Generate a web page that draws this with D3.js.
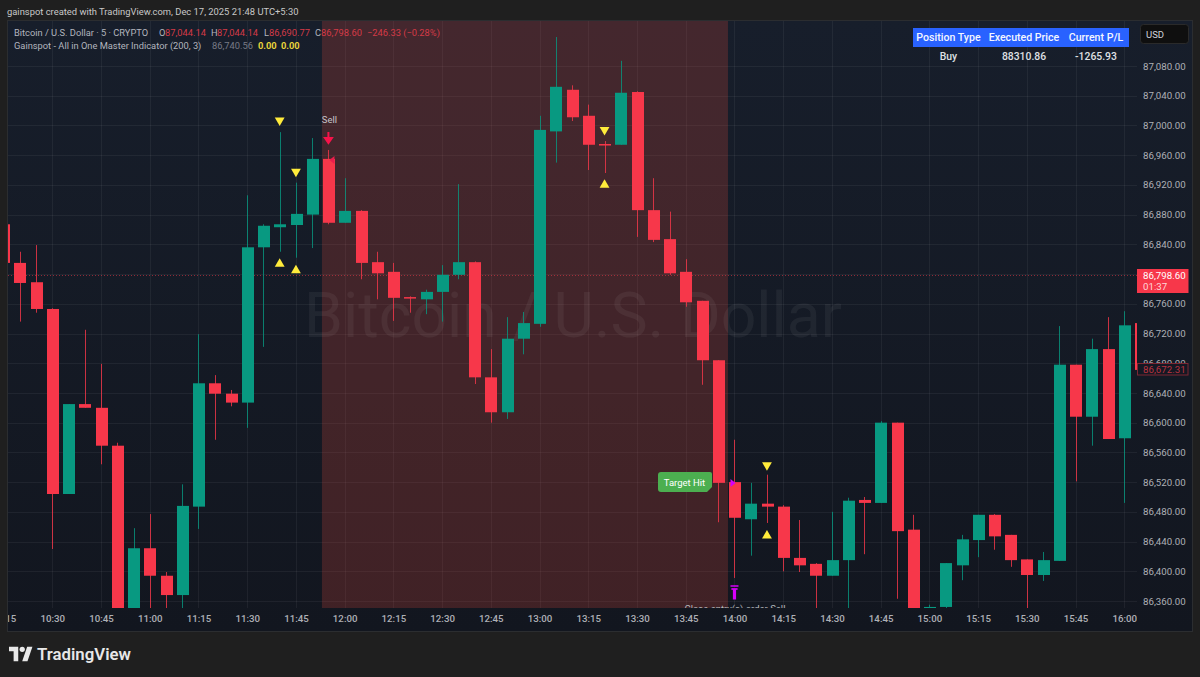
<!DOCTYPE html>
<html>
<meta charset="utf-8">
<style>
html, body { margin: 0; padding: 0; background: #1f1f1f; }
svg { display: block; }
text { font-family: Roboto, "Noto Sans", sans-serif; }
.axis path, .axis line { display: none; }
.axis text { fill: #aeb0b6; font-size: 9.7px; font-family: Roboto, sans-serif; }
.grid { stroke: #ffffff; stroke-opacity: 0.055; }
</style>
<body>
<svg width="1200" height="677"></svg>
<script src="https://d3js.org/d3.v7.min.js"></script>
<script>
var barTimes = ["10:15","10:20","10:25","10:30","10:35","10:40","10:45","10:50","10:55","11:00","11:05","11:10",
  "11:15","11:20","11:25","11:30","11:35","11:40","11:45","11:50","11:55","12:00","12:05","12:10",
  "12:15","12:20","12:25","12:30","12:35","12:40","12:45","12:50","12:55","13:00","13:05","13:10",
  "13:15","13:20","13:25","13:30","13:35","13:40","13:45","13:50","13:55","14:00","14:05","14:10",
  "14:15","14:20","14:25","14:30","14:35","14:40","14:45","14:50","14:55","15:00","15:05","15:10",
  "15:15","15:20","15:25","15:30","15:35","15:40","15:45","15:50","15:55","16:00","16:05"];
var opens = [86867,86815,86789,86753,86504,86625,86620,86569,86330,86431,86394,86368,
  86487,86653,86639,86627,86836,86863,86866,86880,86955,86869,86885,86816,
  86803,86769,86766,86776,86799,86816,86661,86614,86713,86733,86992,87048,
  87013,86975,86974,87045,86886,86847,86803,86764,86684,86520,86470,86491,
  86487,86418,86410,86394,86415,86496,86492,86600,86456,86349,86352,86408,
  86442,86476,86449,86416,86395,86414,86678,86608,86699,86579,86734];
var highs = [86867,86830,86839,86754,86625,86725,86679,86573,86458,86477,86399,86517,
  86719,86664,86644,86906,86867,86991,86923,86983,86967,86929,86886,86830,
  86815,86770,86779,86812,86921,86817,86699,86742,86749,87013,87119,87054,
  87028,86979,87087,87046,86929,86884,86820,86764,86684,86577,86519,86530,
  86489,86469,86411,86480,86499,86500,86602,86600,86476,86355,86411,86449,
  86476,86477,86449,86416,86426,86730,86678,86713,86742,86750,86734];
var lows = [86815,86736,86748,86430,86504,86620,86544,86330,86330,86330,86330,86330,
  86457,86577,86622,86593,86702,86830,86822,86835,86867,86869,86793,86766,
  86737,86748,86746,86736,86793,86652,86600,86605,86692,86729,86950,87006,
  86940,86936,86974,86850,86843,86799,86756,86651,86466,86391,86421,86465,
  86400,86399,86349,86394,86345,86423,86492,86363,86325,86345,86349,86388,
  86419,86429,86406,86345,86387,86414,86521,86569,86578,86492,86671];
var closes = [86815,86788,86753,86504,86625,86620,86569,86330,86431,86394,86368,86488,
  86653,86639,86627,86836,86865,86867,86881,86955,86869,86885,86815,86801,
  86768,86768,86776,86799,86816,86661,86614,86713,86734,86994,87052,87011,
  86974,86974,87044,86886,86846,86801,86762,86684,86519,86472,86491,86487,
  86418,86408,86394,86415,86495,86492,86600,86454,86330,86352,86411,86443,
  86476,86447,86415,86395,86415,86678,86608,86699,86578,86731,86671];

var timeTicks = ["10:15","10:30","10:45","11:00","11:15","11:30","11:45","12:00","12:15","12:30","12:45","13:00",
  "13:15","13:30","13:45","14:00","14:15","14:30","14:45","15:00","15:15","15:30","15:45","16:00"];
var priceTicks = [86360,86400,86440,86480,86520,86560,86600,86640,86680,86720,86760,86800,86840,
  86880,86920,86960,87000,87040,87080];

var sellZone = ["11:55","14:00"];
var lastPrice = 86798.60;
var indicatorPrice = 86672.31;

var downTimes = ["11:40","11:45","13:20","14:10"];
var downPrices = [87007,86938,86994,86543];
var upTimes = ["11:40","11:45","13:20","14:10"];
var upPrices = [86813.5,86805,86920,86448];

var tableHeaders = ["Position Type","Executed Price","Current P/L"];
var tableRow = ["Buy","88310.86","-1265.93"];

var bull = "#089981", bear = "#f7374a";

var svg = d3.select("svg");
var parseTime = d3.utcParse("%H:%M");

// pane edges
var paneL = 8, paneR = 1137, paneT = 21, plotB = 608, paneB = 631, outerR = 1192;

var x = d3.scaleUtc().domain([parseTime("10:30"), parseTime("16:00")]).range([52.3, 1124.3]);
var y = d3.scaleLinear().domain([86360, 87080]).range([601, 66]);

var bars = barTimes.map(function(t, i) {
  return {t: parseTime(t), o: opens[i], h: highs[i], l: lows[i], c: closes[i]};
});

var defs = svg.append("defs");
var grad = defs.append("linearGradient").attr("id", "paneBg").attr("x1", 0).attr("x2", 0).attr("y1", 0).attr("y2", 1);
grad.append("stop").attr("offset", "0%").attr("stop-color", "#171e2b");
grad.append("stop").attr("offset", "100%").attr("stop-color", "#12161f");
defs.append("clipPath").attr("id", "plotClip").append("rect")
  .attr("x", paneL).attr("y", paneT).attr("width", paneR - paneL).attr("height", plotB - paneT);
defs.append("clipPath").attr("id", "timeClip").append("rect")
  .attr("x", paneL).attr("y", plotB).attr("width", paneR - paneL).attr("height", paneB - plotB);

svg.append("rect").attr("width", 1200).attr("height", 677).attr("fill", "#1f1f1f");
svg.append("rect").attr("x", paneL - 0.5).attr("y", paneT - 0.5)
  .attr("width", outerR - paneL + 1).attr("height", paneB - paneT + 1)
  .attr("fill", "url(#paneBg)").attr("stroke", "#2b2d30");

svg.append("text").attr("x", 7).attr("y", 15).attr("fill", "#c8c8c8").style("font-size", "9.4px")
  .text("gainspot created with TradingView.com, Dec 17, 2025 21:48 UTC+5:30");

var plot = svg.append("g").attr("clip-path", "url(#plotClip)");

// grid
plot.selectAll(".vgrid").data(timeTicks).enter().append("line")
  .attr("class", "grid")
  .attr("x1", function(d) { return Math.round(x(parseTime(d))) + 0.5; })
  .attr("x2", function(d) { return Math.round(x(parseTime(d))) + 0.5; })
  .attr("y1", paneT).attr("y2", plotB);
plot.selectAll(".hgrid").data(priceTicks).enter().append("line")
  .attr("class", "grid")
  .attr("x1", paneL).attr("x2", paneR)
  .attr("y1", function(d) { return Math.round(y(d)) + 0.5; })
  .attr("y2", function(d) { return Math.round(y(d)) + 0.5; });

// the sell position shading, 11:55 candle up to the 14:00 one
var step = x(parseTime("10:35")) - x(parseTime("10:30"));
plot.append("rect")
  .attr("x", x(parseTime(sellZone[0])) - step * 0.4)
  .attr("y", paneT)
  .attr("width", x(parseTime(sellZone[1])) - x(parseTime(sellZone[0])))
  .attr("height", plotB - paneT)
  .attr("fill", "#d6473c").attr("fill-opacity", 0.24);

plot.append("text").attr("x", 573).attr("y", 337).attr("text-anchor", "middle")
  .attr("fill", "#ffffff").attr("fill-opacity", 0.055)
  .style("font-size", "62.5px").text("Bitcoin / U.S. Dollar");

plot.append("line")
  .attr("x1", paneL).attr("x2", paneR)
  .attr("y1", Math.round(y(lastPrice)) + 0.5).attr("y2", Math.round(y(lastPrice)) + 0.5)
  .attr("stroke", "#f23645").attr("stroke-opacity", 0.55).attr("stroke-dasharray", "1 2");

// candles
var barW = step * 0.72;
var candle = plot.selectAll(".candle").data(bars).enter().append("g").attr("class", "candle");
candle.append("line")
  .attr("x1", function(d) { return Math.round(x(d.t)) + 0.5; })
  .attr("x2", function(d) { return Math.round(x(d.t)) + 0.5; })
  .attr("y1", function(d) { return y(d.h); })
  .attr("y2", function(d) { return y(d.l); })
  .attr("stroke", function(d) { return d.c >= d.o ? bull : bear; })
  .attr("stroke-opacity", 0.8);
candle.append("rect")
  .attr("x", function(d) { return Math.round(x(d.t) - barW / 2 + 0.5); })
  .attr("y", function(d) { return y(Math.max(d.o, d.c)); })
  .attr("width", Math.round(barW))
  .attr("height", function(d) { return Math.max(1.5, Math.abs(y(d.o) - y(d.c))); })
  .attr("fill", function(d) { return d.c >= d.o ? bull : bear; });

// yellow signal triangles
plot.selectAll(".sigDown").data(downTimes).enter().append("path")
  .attr("d", d3.symbol().type(d3.symbolTriangle).size(42))
  .attr("transform", function(d, i) { return "translate(" + x(parseTime(d)) + "," + y(downPrices[i]) + ") rotate(180)"; })
  .attr("fill", "#ffeb3b");
plot.selectAll(".sigUp").data(upTimes).enter().append("path")
  .attr("d", d3.symbol().type(d3.symbolTriangle).size(42))
  .attr("transform", function(d, i) { return "translate(" + x(parseTime(d)) + "," + y(upPrices[i]) + ")"; })
  .attr("fill", "#ffeb3b");

// sell entry marks
var sellX = x(parseTime("11:55"));
plot.append("text").attr("x", sellX + 1).attr("y", 123).attr("text-anchor", "middle")
  .attr("fill", "#c4c4c8").style("font-size", "9.5px").text("Sell");
plot.append("path")
  .attr("d", "M0,0V9M-3.5,6L0,11L3.5,6Z")
  .attr("transform", "translate(" + sellX + ",132)")
  .attr("stroke", "#f7134a").attr("stroke-width", 2).attr("fill", "#f7134a");
plot.append("path").attr("d", "M0,0L5,-4V4Z")
  .attr("transform", "translate(" + (sellX + 1) + ",160)").attr("fill", "#e91e4c");

// target hit label
var hitX = x(parseTime("14:00"));
plot.append("path")
  .attr("d", "M661,472H710Q712,472 712,474V487L707,492H661Q658,492 658,489V475Q658,472 661,472Z")
  .attr("fill", "#4caf50");
plot.append("text").attr("x", 684.5).attr("y", 485.5).attr("text-anchor", "middle")
  .attr("fill", "#ffffff").style("font-size", "9.5px").text("Target Hit");
plot.append("path").attr("d", "M0,-4L5,0L0,4Z")
  .attr("transform", "translate(" + (hitX - 4) + ",483)").attr("fill", "#d500f9");
plot.append("path")
  .attr("d", "M-4,0H4M-3,3H3M0,3V13")
  .attr("transform", "translate(" + hitX + ",586)")
  .attr("stroke", "#d500f9").attr("stroke-width", 1.5).attr("fill", "none");
plot.append("path")
  .attr("d", "M-3,3H3M-1,3V13H1V3Z")
  .attr("transform", "translate(" + hitX + ",586)")
  .attr("stroke", "#d500f9").attr("stroke-width", 1.2).attr("fill", "#d500f9");
plot.append("text").attr("x", hitX + 0.5).attr("y", 612).attr("text-anchor", "middle")
  .attr("fill", "#b4b6bb").style("font-size", "9.5px").text("Close entry(s) order Sell");

// axes, clip sits on an outer g so the axis translate doesn't move it
svg.append("g").attr("clip-path", "url(#timeClip)")
  .append("g").attr("class", "axis")
  .attr("transform", "translate(0," + (plotB + 7) + ")")
  .call(d3.axisBottom(x).tickValues(timeTicks.map(parseTime)).tickFormat(d3.utcFormat("%H:%M")).tickSize(0).tickPadding(0))
  .call(function(g) { g.selectAll("text").attr("dy", "0.71em").style("font-weight", 500); });

svg.append("g").attr("class", "axis")
  .attr("transform", "translate(" + paneR + ",0)")
  .call(d3.axisRight(y).tickValues(priceTicks).tickFormat(d3.format(",.2f")).tickSize(0).tickPadding(6));

// legend lines
var legend1 = [
  [14, "#b2b5be", "Bitcoin / U.S. Dollar \u00b7 5 \u00b7 CRYPTO"],
  [159, "#b2b5be", "O"], [165, "#d43a47", "87,044.14"],
  [211, "#b2b5be", "H"], [217, "#d43a47", "87,044.14"],
  [264, "#b2b5be", "L"], [269, "#d43a47", "86,690.77"],
  [315, "#b2b5be", "C"], [321, "#d43a47", "86,798.60"],
  [367, "#d43a47", "\u2212246.33 (\u22120.28%)"]
];
svg.selectAll(".leg1").data(legend1).enter().append("text")
  .attr("x", function(d) { return d[0]; }).attr("y", 36)
  .attr("fill", function(d) { return d[1]; }).style("font-size", "9.3px")
  .text(function(d) { return d[2]; });
var legend2 = [
  [14, "#b2b5be", "Gainspot - All in One Master Indicator (200, 3)", 400],
  [212, "#787b86", "86,740.56", 400],
  [258, "#e8d33a", "0.00", 700],
  [281, "#e8d33a", "0.00", 700]
];
svg.selectAll(".leg2").data(legend2).enter().append("text")
  .attr("x", function(d) { return d[0]; }).attr("y", 49)
  .attr("fill", function(d) { return d[1]; }).style("font-size", "9.3px")
  .style("font-weight", function(d) { return d[3]; })
  .text(function(d) { return d[2]; });

// position table
var tableX = [948.5, 1024, 1096];
svg.append("rect").attr("x", 913).attr("y", 28).attr("width", 216).attr("height", 19).attr("fill", "#2962ff");
svg.selectAll(".thead").data(tableHeaders).enter().append("text")
  .attr("x", function(d, i) { return tableX[i]; }).attr("y", 41).attr("text-anchor", "middle")
  .attr("fill", "#f4f6ff").style("font-size", "10.6px").style("font-weight", 500)
  .text(function(d) { return d; });
svg.selectAll(".trow").data(tableRow).enter().append("text")
  .attr("x", function(d, i) { return tableX[i]; }).attr("y", 60).attr("text-anchor", "middle")
  .attr("fill", "#dfe0e4").style("font-size", "10.4px").style("font-weight", 500)
  .text(function(d) { return d; });

// USD button
svg.append("rect").attr("x", 1140.5).attr("y", 24.5).attr("width", 48).attr("height", 19).attr("rx", 3)
  .attr("fill", "#0f0f0f").attr("stroke", "#2a2a2a");
svg.append("text").attr("x", 1146).attr("y", 38).attr("fill", "#d1d4dc").style("font-size", "9.5px").text("USD");

// price labels on the scale
svg.append("rect").attr("x", paneR).attr("y", 269).attr("width", 51.5).attr("height", 24).attr("fill", "#f7374a");
svg.append("text").attr("x", paneR + 6).attr("y", 279).attr("fill", "#ffffff").style("font-size", "9.7px")
  .text(d3.format(",.2f")(lastPrice));
svg.append("text").attr("x", paneR + 6).attr("y", 290).attr("fill", "#ffd5d9").style("font-size", "9.7px").text("01:37");
svg.append("rect").attr("x", paneR + 0.5).attr("y", 363.5).attr("width", 50.5).attr("height", 11.5)
  .attr("fill", "#141823").attr("stroke", "#7d2733");
svg.append("text").attr("x", paneR + 6).attr("y", 372.8).attr("fill", "#b8323f").style("font-size", "9.7px")
  .text(d3.format(",.2f")(indicatorPrice));

// footer
var logo = svg.append("g").attr("transform", "translate(9,644) scale(0.66)").attr("fill", "#e8e8e8");
logo.append("path").attr("d", "M14 26H7V11H0V4h14v22zM28 26h-8l7.5-22h8L28 26z");
logo.append("circle").attr("cx", 20).attr("cy", 8).attr("r", 4);
svg.append("text").attr("x", 37).attr("y", 659.5).attr("fill", "#e8e8e8")
  .style("font-size", "16.8px").style("font-weight", 600).text("TradingView");
</script>
</body>
</html>
